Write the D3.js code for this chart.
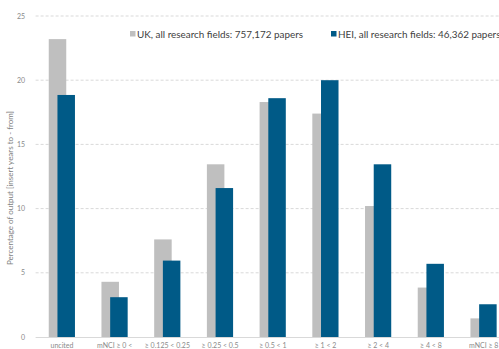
<!DOCTYPE html>
<html>
<head>
<meta charset="utf-8">
<script src="https://cdn.jsdelivr.net/npm/d3@7"></script>
<style>
  body { margin: 0; background: #fff; }
  svg { display: block; font-family: Lato, "Open Sans", sans-serif; }
  .grid line { stroke: #d9d9d9; stroke-dasharray: 3,2; }
  .tick-label { fill: #8a8a8a; font-size: 7px; }
  .legend-text { fill: #404040; font-size: 9.9px; }
  .axis-title { fill: #7f7f7f; font-size: 8px; }
</style>
</head>
<body>
<svg id="chart" width="499" height="349"></svg>
<script>
// categories and series
const categories = ["uncited", "mNCI ≥ 0 <", "≥ 0.125 < 0.25", "≥ 0.25 < 0.5",
    "≥ 0.5 < 1", "≥ 1 < 2", "≥ 2 < 4", "≥ 4 < 8", "mNCI ≥ 8"];
const ukValues  = [23.2, 4.3, 7.6, 13.45, 18.3, 17.4, 10.2, 3.85, 1.45];
const heiValues = [18.85, 3.1, 5.95, 11.6, 18.6, 20.0, 13.45, 5.7, 2.55];
const yTicks = [0, 5, 10, 15, 20, 25];
const seriesNames = ["UK, all research fields: 757,172 papers",
    "HEI, all research fields: 46,362 papers"];

const COLOR_UK = "#bfbfbf";
const COLOR_HEI = "#005a87";

function drawChart() {
    const plot = { left: 35.6, right: 510, top: 16, bottom: 337 };

    const svg = d3.select("#chart");

    const x = d3.scaleBand()
        .domain(categories)
        .range([plot.left, plot.right])
        .paddingInner(0)
        .paddingOuter(0);
    const y = d3.scaleLinear()
        .domain([0, 25])
        .range([plot.bottom, plot.top]);

    // gridlines
    const grid = svg.append("g").attr("class", "grid");
    grid.selectAll("line")
        .data(yTicks.filter(d => d > 0))
        .join("line")
        .attr("x1", plot.left)
        .attr("x2", plot.right)
        .attr("y1", d => y(d))
        .attr("y2", d => y(d));

    // y tick labels
    svg.append("g").selectAll("text")
        .data(yTicks)
        .join("text")
        .attr("class", "tick-label")
        .attr("x", 25)
        .attr("y", d => y(d) + 2.5)
        .attr("text-anchor", "end")
        .text(d => d);

    // bars: gray one first, blue one overlapping to the right
    const barW = 17.5;
    const shift = 8.7;
    const groups = svg.append("g").selectAll("g")
        .data(categories)
        .join("g")
        .attr("transform", d => `translate(${x(d) + x.bandwidth() / 2}, 0)`);

    groups.append("rect")
        .attr("fill", COLOR_UK)
        .attr("x", -13.2)
        .attr("width", barW)
        .attr("y", (d, i) => y(ukValues[i]))
        .attr("height", (d, i) => y(0) - y(ukValues[i]));

    groups.append("rect")
        .attr("fill", COLOR_HEI)
        .attr("x", -13.2 + shift)
        .attr("width", barW)
        .attr("y", (d, i) => y(heiValues[i]))
        .attr("height", (d, i) => y(0) - y(heiValues[i]));

    // baseline
    svg.append("line")
        .attr("x1", plot.left)
        .attr("x2", plot.right)
        .attr("y1", y(0) + 0.5)
        .attr("y2", y(0) + 0.5)
        .attr("stroke", "#d9d9d9")
        .attr("stroke-width", 1);

    // category labels
    groups.append("text")
        .attr("class", "tick-label")
        .attr("text-anchor", "middle")
        .attr("y", 348)
        .text(d => d);

    // y axis title
    svg.append("text")
        .attr("class", "axis-title")
        .attr("text-anchor", "middle")
        .attr("transform", "translate(13, 188) rotate(-90)")
        .text("Percentage of output [insert years to - from]");

    // legend
    const legend = svg.append("g");
    const legendX = [130, 331];
    const legendColors = [COLOR_UK, COLOR_HEI];
    seriesNames.forEach((name, i) => {
        legend.append("rect")
            .attr("x", legendX[i])
            .attr("y", 31)
            .attr("width", 5.5)
            .attr("height", 5.5)
            .attr("fill", legendColors[i]);
        legend.append("text")
            .attr("class", "legend-text")
            .attr("x", legendX[i] + 7)
            .attr("y", 38)
            .text(name);
    });
}

drawChart();
</script>
</body>
</html>
